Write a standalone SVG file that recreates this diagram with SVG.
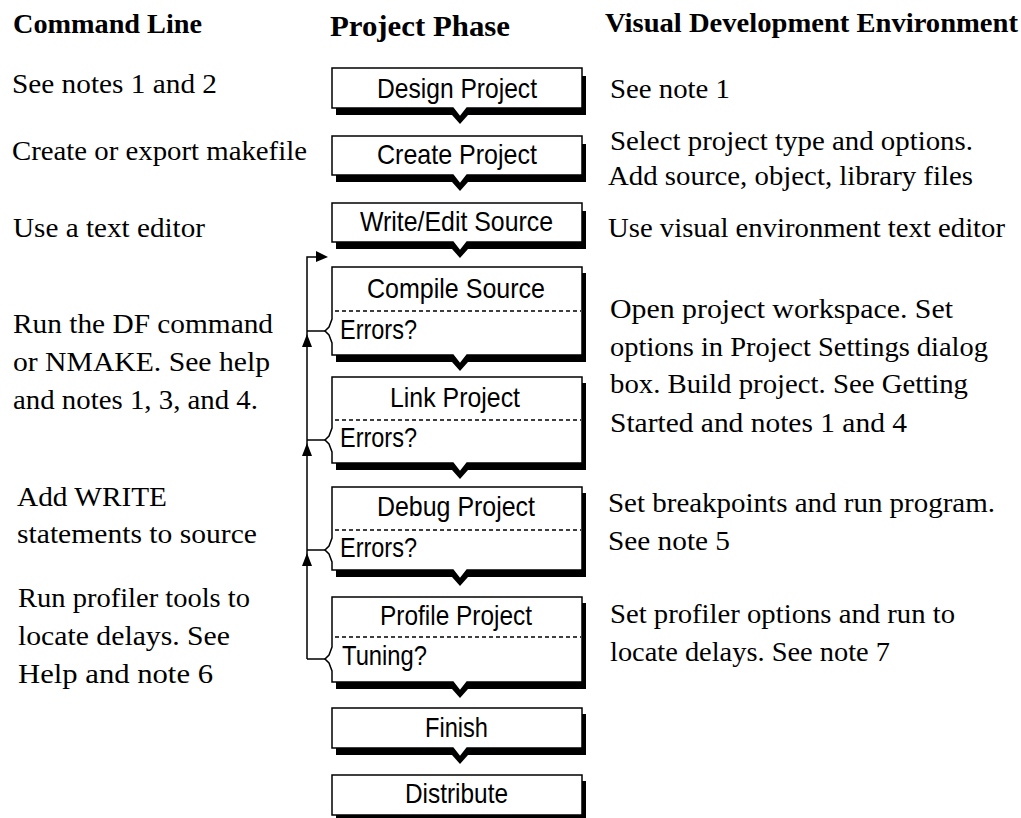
<svg xmlns="http://www.w3.org/2000/svg" width="1021" height="818" viewBox="0 0 1021 818">
<style>
.hdr{font-family:"Liberation Serif","Times New Roman",serif;font-weight:bold;fill:#000}
.note{font-family:"Liberation Serif","Times New Roman",serif;font-size:27px;fill:#000}
.lbl{font-family:"Liberation Sans",Arial,sans-serif;font-size:28px;fill:#000}
.box{fill:#fff;stroke:#000;stroke-width:1.5}
.shadow{fill:#000}
.dash{stroke:#000;stroke-width:1.5;stroke-dasharray:4 3;fill:none}
.conn{stroke:#000;stroke-width:1.5;fill:none}
.head{fill:#000}
</style>
<rect width="1021" height="818" fill="#fff"/>

<g id="headers">
<text class="hdr" x="13" y="33" font-size="27" textLength="189" lengthAdjust="spacingAndGlyphs">Command Line</text>
<text class="hdr" x="330" y="36" font-size="30" textLength="180" lengthAdjust="spacingAndGlyphs">Project Phase</text>
<text class="hdr" x="605" y="32" font-size="28" textLength="413" lengthAdjust="spacingAndGlyphs">Visual Development Environment</text>
</g>

<g id="command-line-notes">
<text class="note" x="12" y="93" textLength="205" lengthAdjust="spacingAndGlyphs">See notes 1 and 2</text>
<text class="note" x="12" y="160" textLength="295" lengthAdjust="spacingAndGlyphs">Create or export makefile</text>
<text class="note" x="13" y="237" textLength="192" lengthAdjust="spacingAndGlyphs">Use a text editor</text>
<text class="note" x="13" y="333" textLength="260" lengthAdjust="spacingAndGlyphs">Run the DF command</text>
<text class="note" x="13" y="371" textLength="257" lengthAdjust="spacingAndGlyphs">or NMAKE. See help</text>
<text class="note" x="13" y="409" textLength="245" lengthAdjust="spacingAndGlyphs">and notes 1, 3, and 4.</text>
<text class="note" x="17" y="506" textLength="150" lengthAdjust="spacingAndGlyphs">Add WRITE</text>
<text class="note" x="17" y="543" textLength="240" lengthAdjust="spacingAndGlyphs">statements to source</text>
<text class="note" x="18" y="607" textLength="232" lengthAdjust="spacingAndGlyphs">Run profiler tools to</text>
<text class="note" x="18" y="645" textLength="212" lengthAdjust="spacingAndGlyphs">locate delays. See</text>
<text class="note" x="18" y="683" textLength="195" lengthAdjust="spacingAndGlyphs">Help and note 6</text>
</g>

<g id="visual-env-notes">
<text class="note" x="610" y="98" textLength="120" lengthAdjust="spacingAndGlyphs">See note 1</text>
<text class="note" x="610" y="150" textLength="363" lengthAdjust="spacingAndGlyphs">Select project type and options.</text>
<text class="note" x="608" y="185" textLength="365" lengthAdjust="spacingAndGlyphs">Add source, object, library files</text>
<text class="note" x="608" y="237" textLength="397" lengthAdjust="spacingAndGlyphs">Use visual environment text editor</text>
<text class="note" x="610" y="318" textLength="343" lengthAdjust="spacingAndGlyphs">Open project workspace. Set</text>
<text class="note" x="610" y="356" textLength="378" lengthAdjust="spacingAndGlyphs">options in Project Settings dialog</text>
<text class="note" x="610" y="393" textLength="358" lengthAdjust="spacingAndGlyphs">box. Build project. See Getting</text>
<text class="note" x="610" y="432" textLength="297" lengthAdjust="spacingAndGlyphs">Started and notes 1 and 4</text>
<text class="note" x="608" y="512" textLength="387" lengthAdjust="spacingAndGlyphs">Set breakpoints and run program.</text>
<text class="note" x="608" y="550" textLength="122" lengthAdjust="spacingAndGlyphs">See note 5</text>
<text class="note" x="610" y="623" textLength="345" lengthAdjust="spacingAndGlyphs">Set profiler options and run to</text>
<text class="note" x="610" y="661" textLength="280" lengthAdjust="spacingAndGlyphs">locate delays. See note 7</text>
</g>

<g id="connectors">
<path class="conn" d="M307,659 V257 H318"/>
<polygon class="head" points="316,251 328,257 316,262"/>
<path class="conn" d="M307,331 H325 M307,440 H325 M307,550 H325 M307,659 H325"/>
<polygon class="head" points="307,334 312,347 302,347"/>
<polygon class="head" points="307,443 312,456 302,456"/>
<polygon class="head" points="307,553 312,566 302,566"/>
</g>

<g id="node-design">
<path class="shadow" d="M336,108 H582 V76 H586 V115 H468 L460,124 L452,115 H336 Z"/>
<path class="box" d="M332,68 H582 V108 H467 L460,117 L453,108 H332 Z"/>
<text class="lbl" x="457" y="98" text-anchor="middle" textLength="160" lengthAdjust="spacingAndGlyphs">Design Project</text>
</g>

<g id="node-create">
<path class="shadow" d="M336,175 H582 V144 H586 V182 H468 L460,191 L452,182 H336 Z"/>
<path class="box" d="M332,136 H582 V175 H467 L460,184 L453,175 H332 Z"/>
<text class="lbl" x="457" y="164" text-anchor="middle" textLength="160" lengthAdjust="spacingAndGlyphs">Create Project</text>
</g>

<g id="node-write">
<path class="shadow" d="M336,242 H582 V211 H586 V249 H468 L460,258 L452,249 H336 Z"/>
<path class="box" d="M332,203 H582 V242 H467 L460,251 L453,242 H332 Z"/>
<text class="lbl" x="456.5" y="231" text-anchor="middle" textLength="193" lengthAdjust="spacingAndGlyphs">Write/Edit Source</text>
</g>

<g id="node-compile">
<path class="shadow" d="M336,355 H582 V273 H586 V362 H468 L460,371 L452,362 H336 Z"/>
<path class="box" d="M332,267 H582 V355 H467 L460,364 L453,355 H332 V343 L329,335 L325,331 L329,327 L332,319 Z"/>
<line class="dash" x1="335" y1="311" x2="581" y2="311"/>
<text class="lbl" x="456" y="298" text-anchor="middle" textLength="178" lengthAdjust="spacingAndGlyphs">Compile Source</text>
<text class="lbl" x="340" y="339" textLength="77" lengthAdjust="spacingAndGlyphs">Errors?</text>
</g>

<g id="node-link">
<path class="shadow" d="M336,463 H582 V383 H586 V470 H468 L460,479 L452,470 H336 Z"/>
<path class="box" d="M332,377 H582 V463 H467 L460,472 L453,463 H332 V452 L329,444 L325,440 L329,436 L332,428 Z"/>
<line class="dash" x1="335" y1="420" x2="581" y2="420"/>
<text class="lbl" x="455" y="407" text-anchor="middle" textLength="130" lengthAdjust="spacingAndGlyphs">Link Project</text>
<text class="lbl" x="340" y="447" textLength="77" lengthAdjust="spacingAndGlyphs">Errors?</text>
</g>

<g id="node-debug">
<path class="shadow" d="M336,570 H582 V493 H586 V577 H468 L460,586 L452,577 H336 Z"/>
<path class="box" d="M332,487 H582 V570 H467 L460,579 L453,570 H332 V562 L329,554 L325,550 L329,546 L332,538 Z"/>
<line class="dash" x1="335" y1="530" x2="581" y2="530"/>
<text class="lbl" x="456" y="516" text-anchor="middle" textLength="158" lengthAdjust="spacingAndGlyphs">Debug Project</text>
<text class="lbl" x="340" y="557" textLength="77" lengthAdjust="spacingAndGlyphs">Errors?</text>
</g>

<g id="node-profile">
<path class="shadow" d="M336,682 H582 V603 H586 V689 H468 L460,698 L452,689 H336 Z"/>
<path class="box" d="M332,597 H582 V682 H467 L460,691 L453,682 H332 V671 L329,663 L325,659 L329,655 L332,647 Z"/>
<line class="dash" x1="335" y1="637" x2="581" y2="637"/>
<text class="lbl" x="456" y="625" text-anchor="middle" textLength="152" lengthAdjust="spacingAndGlyphs">Profile Project</text>
<text class="lbl" x="342" y="665" textLength="85" lengthAdjust="spacingAndGlyphs">Tuning?</text>
</g>

<g id="node-finish">
<path class="shadow" d="M336,748 H582 V714 H586 V755 H468 L460,764 L452,755 H336 Z"/>
<path class="box" d="M332,708 H582 V748 H467 L460,757 L453,748 H332 Z"/>
<text class="lbl" x="456.5" y="737" text-anchor="middle" textLength="63" lengthAdjust="spacingAndGlyphs">Finish</text>
</g>

<g id="node-distribute">
<path class="shadow" d="M336,815 H582 V781 H586 V822 H336 Z"/>
<path class="box" d="M332,775 H582 V815 H332 Z"/>
<text class="lbl" x="456.5" y="803" text-anchor="middle" textLength="103" lengthAdjust="spacingAndGlyphs">Distribute</text>
</g>
</svg>
